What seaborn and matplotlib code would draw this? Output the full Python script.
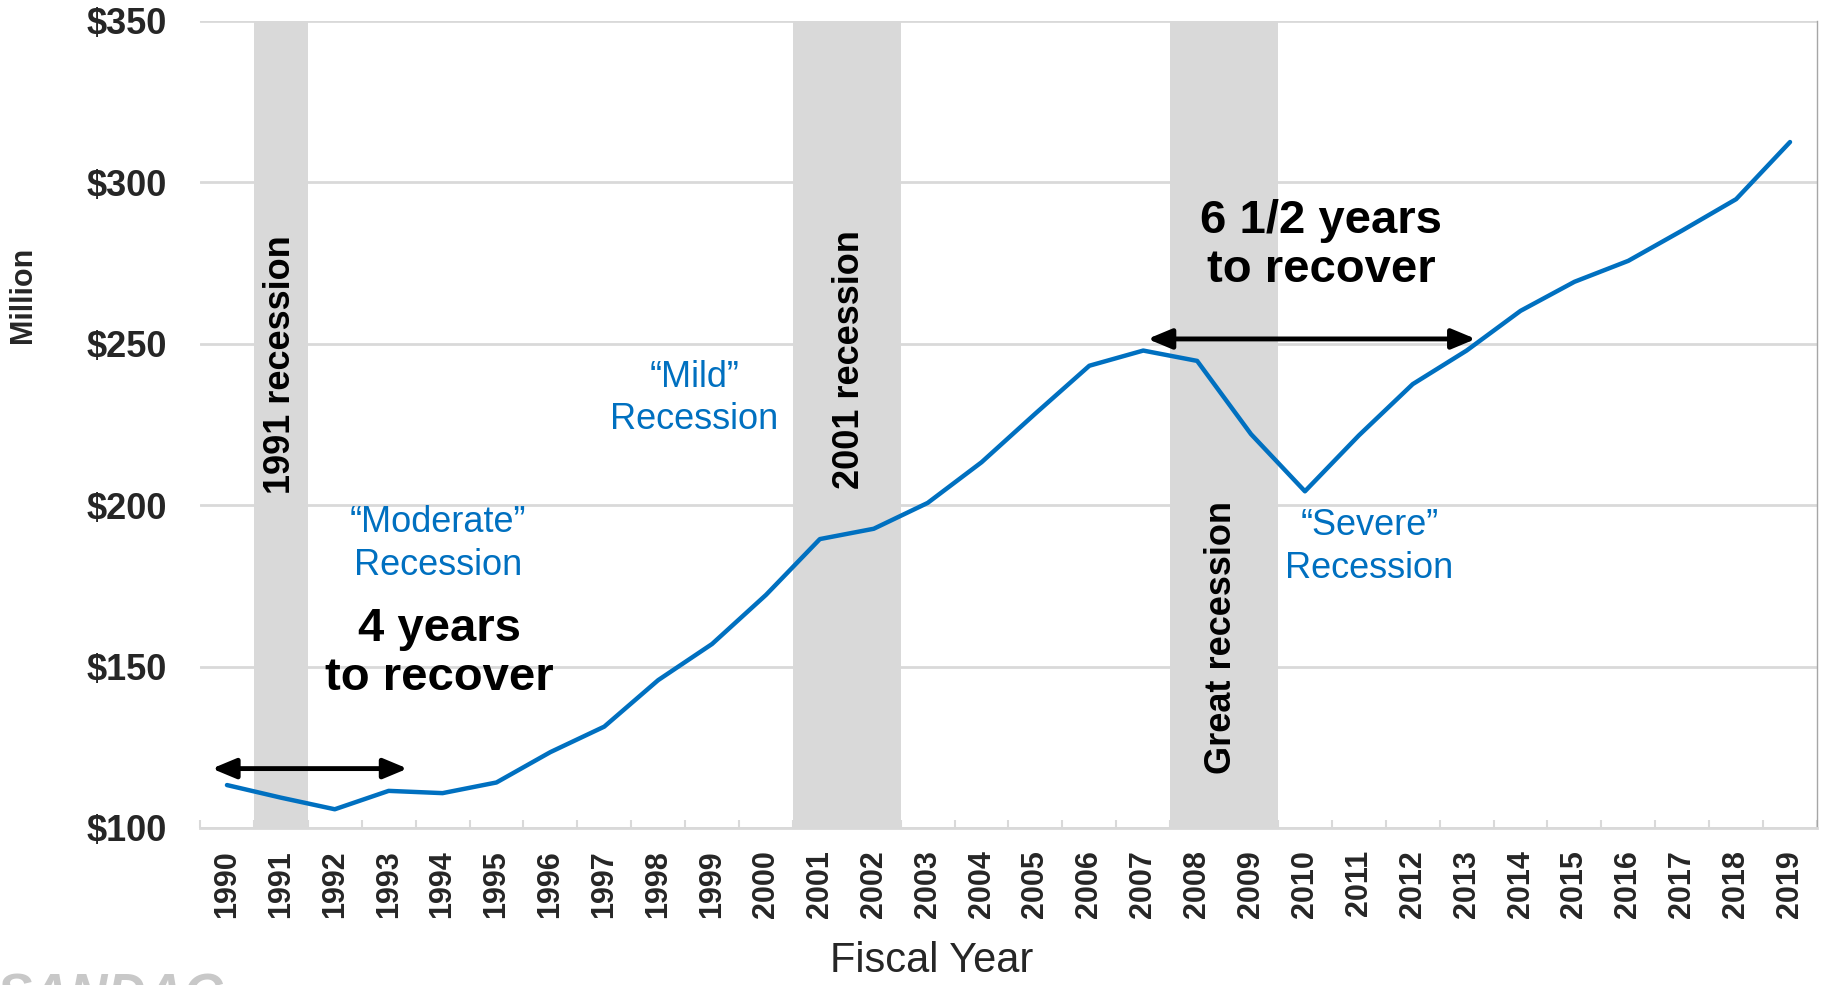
import numpy as np
import pandas as pd
import matplotlib
matplotlib.use("Agg")
import matplotlib.pyplot as plt
import seaborn as sns

# Annual revenue, millions of dollars
years = list(range(1990, 2020))
revenue = [113.3, 109.4, 105.8, 111.5, 110.8, 114.1, 123.5, 131.4, 145.8, 157.0,
           172.2, 189.5, 192.7, 200.7, 213.3, 228.4, 243.2, 247.9, 244.7, 222.0,
           204.3, 221.6, 237.5, 247.9, 260.2, 269.2, 275.7, 285.1, 294.8, 312.5]

y_ticks = [100, 150, 200, 250, 300, 350]
recessions = [("1991 recession", 1991, 1991), ("2001 recession", 2001, 2002),
              ("Great recession", 2008, 2009)]

BLUE = "#0070C0"
GREY = "#D9D9D9"

sns.set_theme(style="white")
plt.rcParams["font.family"] = ["Liberation Sans", "DejaVu Sans"]

df = pd.DataFrame({"year": years, "revenue": revenue})

fig = plt.figure(figsize=(18.25, 9.85), dpi=100)
ax = fig.add_axes([0.1096, 0.1594, 0.8860, 0.8193])

# recession bands
for label, start, end in recessions:
    ax.axvspan(start - 0.5, end + 0.5, color=GREY, lw=0, zorder=1)

for yv in y_ticks:
    ax.axhline(yv, color=GREY, lw=2, zorder=0.5)

sns.lineplot(data=df, x="year", y="revenue", ax=ax, color=BLUE, lw=3.2, zorder=3)

ax.set_xlim(1989.5, 2019.5)
ax.set_ylim(100, 350)
ax.set_yticks(y_ticks)
ax.set_yticklabels([f"${v}" for v in y_ticks], fontsize=26, fontweight="bold")
ax.set_xticks(years)
ax.set_xticklabels([str(y) for y in years], rotation=90, fontsize=22, fontweight="bold")
ax.set_xticks(np.arange(1989.5, 2020.0, 1.0), minor=True)
ax.tick_params(axis="x", which="major", length=0, pad=16)
ax.tick_params(axis="x", which="minor", direction="in", length=6, width=1.5, color=GREY, bottom=True)
ax.tick_params(axis="y", length=0, pad=24)

for side in ["top", "left"]:
    ax.spines[side].set_visible(False)
ax.spines["bottom"].set_color(GREY)
ax.spines["bottom"].set_linewidth(2)
ax.spines["right"].set_color("#A6A6A6")
ax.spines["right"].set_linewidth(1)
ax.grid(False)

ax.set_xlabel("")
ax.set_ylabel("Million", fontsize=22, fontweight="bold")
ax.yaxis.set_label_coords(-0.1, 0.66)
fig.text(0.5107, 0.013, "Fiscal Year", ha="center", va="baseline", fontsize=30)

# recession labels
ax.text(1991, 243.5, "1991 recession", rotation=90, ha="center", va="center",
        fontsize=26, fontweight="bold", color="black", zorder=2)
ax.text(2001.55, 245, "2001 recession", rotation=90, ha="center", va="center",
        fontsize=26, fontweight="bold", color="black", zorder=2)
ax.text(2008.45, 159, "Great recession", rotation=90, ha="center", va="center",
        fontsize=26, fontweight="bold", color="black", zorder=2)

# severity notes
blue_kw = dict(ha="center", va="center", fontsize=26, color=BLUE, linespacing=1.28, zorder=4)
ax.text(1993.92, 188, "\u201cModerate\u201d\nRecession", **blue_kw)
ax.text(1998.67, 233, "\u201cMild\u201d\nRecession", **blue_kw)
ax.text(2011.2, 187, "\u201cSevere\u201d\nRecession", **blue_kw)

black_kw = dict(ha="center", va="center", fontsize=34, fontweight="bold", color="black",
                linespacing=1.13, zorder=4)
ax.text(1993.94, 154, "4 years\nto recover", **black_kw)
ax.text(2010.3, 280.4, "6 1/2 years\nto recover", **black_kw)

arrow_kw = dict(arrowstyle="<|-|>,head_length=1.2,head_width=0.5", color="black", lw=3.5,
                shrinkA=0, shrinkB=0)
ax.annotate("", xy=(1989.72, 118.4), xytext=(1993.35, 118.4), arrowprops=arrow_kw, zorder=5)
ax.annotate("", xy=(2007.08, 251.5), xytext=(2013.17, 251.5), arrowprops=arrow_kw, zorder=5)

fig.text(-0.002, 0.0122, "SANDAG", ha="left", va="top", fontsize=38, fontweight="bold",
         fontstyle="italic", color="#C8C8C8")

fig.savefig("out.png", dpi=100)
